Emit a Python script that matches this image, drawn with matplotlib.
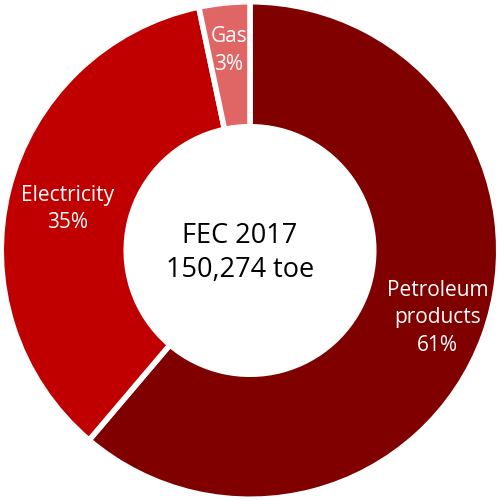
import matplotlib
matplotlib.use("Agg")
import matplotlib.pyplot as plt

categories = ["Petroleum products", "Electricity", "Gas"]
shares = [61.2, 35.5, 3.3]
labels = ["Petroleum\nproducts\n61%", "Electricity\n35%", "Gas\n3%"]
colors = ["#800000", "#C00000", "#E06666"]
center_text = "FEC 2017\n150,274 toe"

plt.rcParams['font.family'] = ['Open Sans', 'DejaVu Sans']

fig = plt.figure(figsize=(5.0, 5.01), dpi=100)
ax = fig.add_axes([0, 0, 1, 1])

wedges, _ = ax.pie(shares, colors=colors, startangle=90, counterclock=False,
                   radius=0.995, wedgeprops=dict(width=0.5, edgecolor='white', linewidth=4))
ax.set_xlim(-1.0, 1.0)
ax.set_ylim(-1.0, 1.0)
ax.set_aspect('equal')
ax.axis('off')

label_pos = [(0.75, -0.27), (-0.73, 0.165), (-0.085, 0.80)]
for (x, y), t in zip(label_pos, labels):
    ax.text(x, y, t, ha='center', va='center', color='white', fontsize=15, linespacing=1.4)

ax.text(-0.04, -0.01, center_text, ha='center', va='center', color='black', fontsize=19.5, linespacing=1.3)

fig.savefig("out.png", dpi=100)
